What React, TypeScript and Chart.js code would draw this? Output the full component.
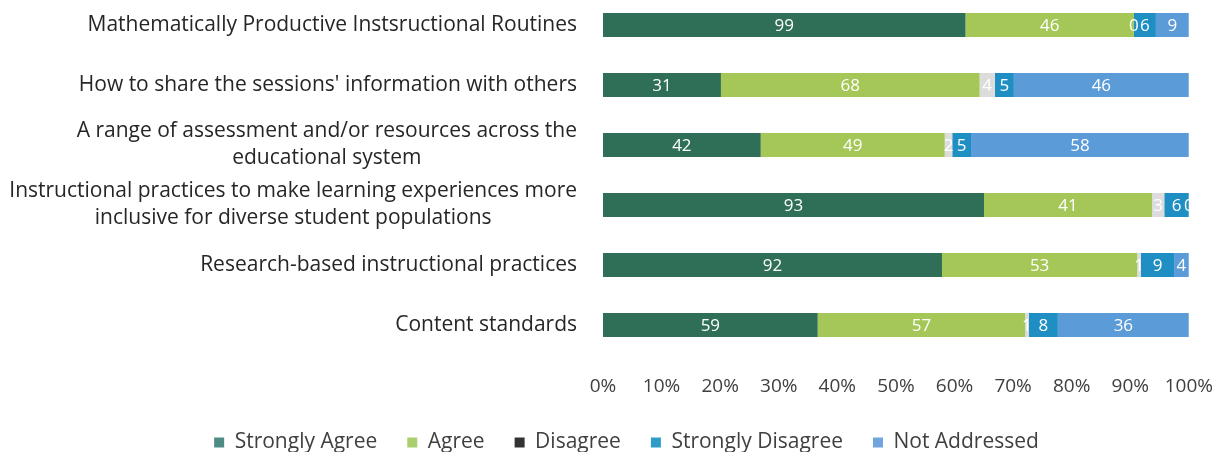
import React, { useEffect, useRef } from "react";
import { Chart, registerables } from "chart.js";

Chart.register(...registerables);

const categories: string[][] = [
  ["Mathematically Productive Instsructional Routines"],
  ["How to share the sessions' information with others"],
  ["A range of assessment and/or resources across the", "educational system"],
  ["Instructional practices to make learning experiences more", "inclusive for diverse student populations"],
  ["Research-based instructional practices"],
  ["Content standards"],
];

const seriesNames = ["Strongly Agree", "Agree", "Disagree", "Strongly Disagree", "Not Addressed"];

const stronglyAgree = [99, 31, 42, 93, 92, 59];
const agree = [46, 68, 49, 41, 53, 57];
const disagree = [0, 4, 2, 3, 1, 1];
const stronglyDisagree = [6, 5, 5, 6, 9, 8];
const notAddressed = [9, 46, 58, 0, 4, 36];

const xTicks = [0, 10, 20, 30, 40, 50, 60, 70, 80, 90, 100];

const barColors = ["#2f6f58", "#a4c757", "#dcdcdc", "#1f8fc3", "#5b9bd8"];
const legendColors = ["#4f8b85", "#a9cf6f", "#333333", "#2e9cc8", "#70a4dd"];

const FONT = "'Open Sans', Lato, sans-serif";
const CANVAS_H = 473;
const CANVAS_TOP = -10;

export default function App() {
  const ref = useRef<HTMLCanvasElement | null>(null);

  useEffect(() => {
    if (!ref.current) return;
    const counts = [stronglyAgree, agree, disagree, stronglyDisagree, notAddressed];
    const totals = categories.map((_, i) => counts.reduce((s, arr) => s + arr[i], 0));

    const valueLabels = {
      id: "valueLabels",
      afterDatasetsDraw(chart: any) {
        const ctx = chart.ctx;
        ctx.save();
        ctx.font = `17px ${FONT}`;
        ctx.fillStyle = "#ffffff";
        ctx.textAlign = "center";
        ctx.textBaseline = "middle";
        chart.data.datasets.forEach((ds: any, di: number) => {
          const meta = chart.getDatasetMeta(di);
          meta.data.forEach((el: any, i: number) => {
            const c = el.getCenterPoint();
            ctx.fillText(String(ds.counts[i]), c.x, c.y + 1);
          });
        });
        ctx.restore();
      },
    };

    const catLabels = {
      id: "catLabels",
      afterDraw(chart: any) {
        const ctx = chart.ctx;
        const y = chart.scales.y;
        const rightX = chart.chartArea.left - 26;
        ctx.save();
        ctx.font = `21px ${FONT}`;
        ctx.fillStyle = "#262626";
        ctx.textBaseline = "middle";
        categories.forEach((lines, i) => {
          const cy = y.getPixelForValue(i);
          const lh = 27;
          if (lines.length === 1) {
            ctx.textAlign = "right";
            ctx.fillText(lines[0], rightX, cy);
          } else {
            const maxW = Math.max(...lines.map((l) => ctx.measureText(l).width));
            ctx.textAlign = "center";
            const cx = rightX - maxW / 2;
            lines.forEach((l, k) => {
              ctx.fillText(l, cx, cy + (k - (lines.length - 1) / 2) * lh);
            });
          }
        });
        ctx.restore();
      },
    };

    const chart = new Chart(ref.current, {
      type: "bar",
      data: {
        labels: categories.map((c) => c.join(" ")),
        datasets: seriesNames.map((name, di) => ({
          label: name,
          data: counts[di].map((v, i) => (v / totals[i]) * 100),
          counts: counts[di],
          backgroundColor: barColors[di],
          borderWidth: 0,
          barPercentage: 0.4,
          categoryPercentage: 1,
        })) as any,
      },
      options: {
        indexAxis: "y",
        animation: false,
        responsive: false,
        layout: { padding: { left: 60, right: 32, top: 5, bottom: 0 } },
        scales: {
          x: {
            stacked: true,
            min: 0,
            max: 100,
            grid: { display: false },
            border: { display: false },
            afterFit: (s: any) => {
              s.height = 47;
            },
            ticks: {
              stepSize: 10,
              padding: 12,
              color: "#404040",
              font: { family: FONT, size: 19 },
              maxRotation: 0,
              callback: (v: any) => (xTicks.includes(Number(v)) ? `${v}%` : ""),
            },
          },
          y: {
            stacked: true,
            grid: { display: false },
            border: { display: false },
            ticks: { display: false },
            afterFit: (s: any) => {
              s.width = 543;
            },
          },
        },
        plugins: {
          tooltip: { enabled: false },
          legend: {
            position: "bottom",
            labels: {
              color: "#404040",
              font: { family: FONT, size: 21 },
              boxWidth: 10,
              boxHeight: 10,
              padding: 30,
              generateLabels: () =>
                seriesNames.map((n, i) => ({
                  text: n,
                  fillStyle: legendColors[i],
                  strokeStyle: legendColors[i],
                  lineWidth: 0,
                  fontColor: "#404040",
                  hidden: false,
                  datasetIndex: i,
                })),
            },
          },
        },
      },
      plugins: [valueLabels, catLabels],
    });
    return () => chart.destroy();
  }, []);

  return (
    <div style={{ position: "absolute", left: 0, top: 0, width: 1225, height: 452, overflow: "hidden", background: "#fff" }}>
      <canvas ref={ref} width={1225} height={CANVAS_H} style={{ position: "absolute", left: 0, top: CANVAS_TOP }} />
    </div>
  );
}
